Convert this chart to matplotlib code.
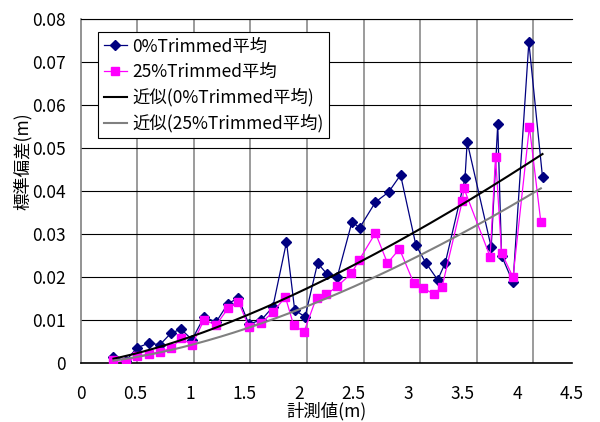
import numpy as np
import matplotlib
matplotlib.use('Agg')
import matplotlib.pyplot as plt
from matplotlib.ticker import FixedLocator

plt.rcParams['font.family'] = ['Noto Sans CJK JP', 'DejaVu Sans']

# ---- data ----
x_0 = [0.30, 0.415, 0.515, 0.625, 0.725, 0.83, 0.92, 1.02, 1.13, 1.24,
       1.35, 1.445, 1.54, 1.655, 1.76, 1.885, 1.96, 2.055, 2.17, 2.255,
       2.35, 2.485, 2.555, 2.70, 2.82, 2.93, 3.07, 3.16, 3.27, 3.34,
       3.52, 3.54, 3.76, 3.82, 3.855, 3.96, 4.105, 4.23]
y_0 = [0.0015, 0.0006, 0.0036, 0.0047, 0.0043, 0.0071, 0.0079, 0.0055, 0.0108, 0.0096,
       0.0139, 0.0152, 0.0091, 0.0101, 0.0131, 0.0282, 0.0124, 0.0108, 0.0233, 0.0208,
       0.0201, 0.0329, 0.0315, 0.0375, 0.0398, 0.0438, 0.0275, 0.0234, 0.0194, 0.0234,
       0.0430, 0.0515, 0.0270, 0.0556, 0.0250, 0.0188, 0.0747, 0.0433]

x_25 = [0.30, 0.415, 0.515, 0.625, 0.725, 0.83, 0.92, 1.02, 1.13, 1.24,
        1.35, 1.445, 1.54, 1.655, 1.76, 1.875, 1.95, 2.045, 2.16, 2.25,
        2.35, 2.48, 2.55, 2.70, 2.81, 2.92, 3.05, 3.135, 3.235, 3.31,
        3.495, 3.51, 3.75, 3.80, 3.855, 3.96, 4.11, 4.215]
y_25 = [0.0008, 0.0002, 0.0017, 0.0021, 0.0027, 0.0035, 0.0058, 0.0043, 0.0101, 0.0089,
        0.0128, 0.0143, 0.0085, 0.0094, 0.0119, 0.0154, 0.0089, 0.0073, 0.0153, 0.0160,
        0.0179, 0.0209, 0.0240, 0.0303, 0.0233, 0.0266, 0.0187, 0.0175, 0.0161, 0.0178,
        0.0377, 0.0407, 0.0248, 0.0480, 0.0257, 0.0200, 0.0550, 0.0328]

# power-law trendlines y = a * x^b (coefficients)
trend_0 = (0.0061, 1.44)
trend_25 = (0.00419, 1.58)

x_ticks = [0, 0.5, 1, 1.5, 2, 2.5, 3, 3.5, 4, 4.5]
x_tick_labels = ['0', '0.5', '1', '1.5', '2', '2.5', '3', '3.5', '4', '4.5']
y_ticks = [0, 0.01, 0.02, 0.03, 0.04, 0.05, 0.06, 0.07, 0.08]
y_tick_labels = ['0', '0.01', '0.02', '0.03', '0.04', '0.05', '0.06', '0.07', '0.08']

labels = ['0%Trimmed平均', '25%Trimmed平均', '近似(0%Trimmed平均)', '近似(25%Trimmed平均)']


def power_curve(x, coef):
    xs = np.linspace(min(x), max(x), 200)
    return xs, coef[0] * xs ** coef[1]


fig = plt.figure(figsize=(6, 4.22), dpi=100)
ax = fig.add_axes([0.1345, 0.1391, 0.8188, 0.8152])
ax.set_axisbelow(True)

ax.plot(x_0, y_0, color='#000080', lw=0.9, marker='D', ms=5.2,
        markerfacecolor='#000080', markeredgecolor='#000080', label=labels[0], zorder=3)
ax.plot(x_25, y_25, color='#FF00FF', lw=0.9, marker='s', ms=5.4,
        markerfacecolor='#FF00FF', markeredgecolor='#FF00FF', label=labels[1], zorder=4)

tx0, ty0 = power_curve(x_0, trend_0)
tx25, ty25 = power_curve(x_25, trend_25)
ax.plot(tx0, ty0, color='black', lw=1.5, label=labels[2], zorder=5)
ax.plot(tx25, ty25, color='#808080', lw=1.5, label=labels[3], zorder=5)

ax.set_xlim(0, 4.5)
ax.set_ylim(0, 0.08)
ax.set_xticks(x_ticks)
ax.set_xticklabels(x_tick_labels)
ax.set_yticks(y_ticks)
ax.set_yticklabels(y_tick_labels)

# vertical gridlines (their spacing in the reference differs slightly from the labels)
ax.xaxis.set_minor_locator(FixedLocator([k * 0.5184 for k in range(1, 9)]))
ax.grid(which='minor', axis='x', color='#808080', lw=1.1)
ax.grid(which='major', axis='y', color='black', lw=0.8)
ax.grid(which='major', axis='x', visible=False)

ax.tick_params(which='both', length=0, labelsize=12.5)
ax.tick_params(axis='x', pad=15.5)
ax.tick_params(axis='y', pad=11)

ax.spines['right'].set_visible(False)
ax.spines['top'].set_color('black'); ax.spines['top'].set_linewidth(0.8)
ax.spines['left'].set_color('#808080'); ax.spines['left'].set_linewidth(1.2)
ax.spines['bottom'].set_color('black'); ax.spines['bottom'].set_linewidth(1.2)

ax.set_xlabel('計測値(m)', fontsize=12.5, labelpad=-1)
ax.set_ylabel('標準偏差(m)', fontsize=12.5)
ax.yaxis.set_label_coords(-0.099, 0.588)

leg = ax.legend(loc='upper left', bbox_to_anchor=(0.036, 0.962), borderaxespad=0,
                frameon=True, fancybox=False, edgecolor='black', framealpha=1,
                fontsize=12.5, handlelength=1.35, handletextpad=0.3,
                labelspacing=0.42, borderpad=0.3)
leg.get_frame().set_linewidth(0.8)

fig.savefig('out.png', dpi=100, facecolor='white')
